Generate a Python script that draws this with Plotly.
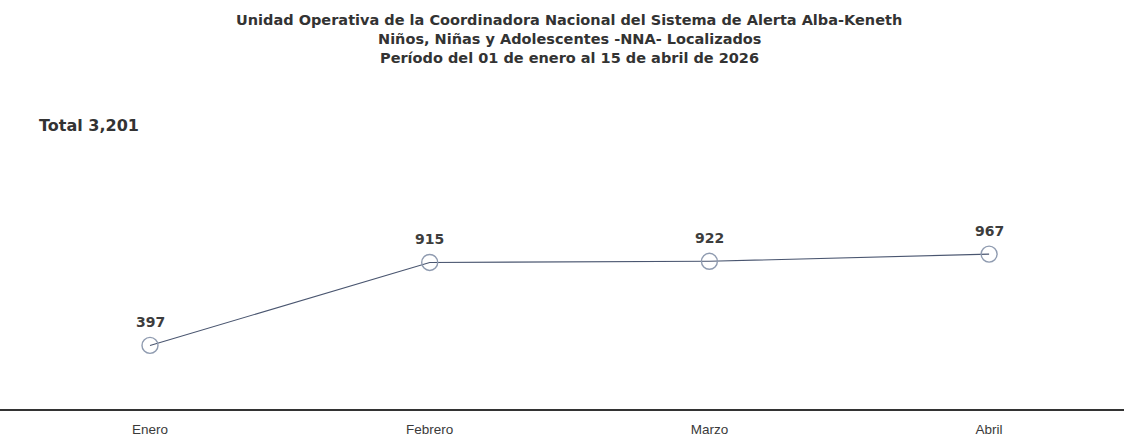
import plotly.graph_objects as go

months = ["Enero", "Febrero", "Marzo", "Abril"]
values = [397, 915, 922, 967]
title_lines = [
    "Unidad Operativa de la Coordinadora Nacional del Sistema de Alerta Alba-Keneth",
    "Niños, Niñas y Adolescentes -NNA- Localizados",
    "Período del 01 de enero al 15 de abril de 2026",
]
total_label = "Total 3,201"

W, H = 1124, 439
M_T, M_B = 100, 30
PH = H - M_T - M_B

def py(pix):
    # pixel from top -> paper fraction
    return (H - M_B - pix) / PH

x_idx = list(range(len(months)))

fig = go.Figure()
fig.add_trace(go.Scatter(
    x=x_idx, y=values,
    mode="lines+markers",
    line=dict(color="#4a5670", width=1.1),
    marker=dict(size=16, color="rgba(255,255,255,0)", symbol="circle",
                line=dict(color="#8f9bb0", width=1.4)),
    hoverinfo="skip",
    showlegend=False,
    cliponaxis=False,
))

for xi, v in zip(x_idx, values):
    fig.add_annotation(
        x=xi, y=v, xref="x", yref="y", text=f"{v}",
        showarrow=False, yshift=23,
        font=dict(family="DejaVu Sans", size=14, color="#3d3d3d", weight="bold"),
        xanchor="center", yanchor="middle",
    )

fig.update_layout(
    width=W, height=H,
    margin=dict(l=0, r=0, t=M_T, b=M_B),
    paper_bgcolor="white", plot_bgcolor="white",
    xaxis=dict(
        range=[-0.5363, 3.4823],
        tickvals=x_idx, ticktext=months,
        showgrid=False, zeroline=False,
        showline=True, linecolor="#333333", linewidth=2,
        ticks="", ticklabelstandoff=7,
        tickfont=dict(family="Liberation Sans", size=13.5, color="#3a3a3a"),
    ),
    yaxis=dict(range=[0, 1929], visible=False, showgrid=False, zeroline=False),
)

for line, ypix in zip(title_lines, [20, 39, 58]):
    fig.add_annotation(
        text=line, xref="paper", yref="paper",
        x=569 / W, y=py(ypix),
        showarrow=False,
        font=dict(family="DejaVu Sans", size=14.5, color="#333333", weight="bold"),
        xanchor="center", yanchor="middle",
    )

fig.add_annotation(
    text=total_label,
    xref="paper", yref="paper",
    x=37 / W, y=py(125),
    showarrow=False,
    font=dict(family="DejaVu Sans", size=16, color="#333333", weight="bold"),
    xanchor="left", yanchor="middle",
)

fig.write_html("out.html", config={"displayModeBar": False},
               post_script="document.body.style.margin='0';")
